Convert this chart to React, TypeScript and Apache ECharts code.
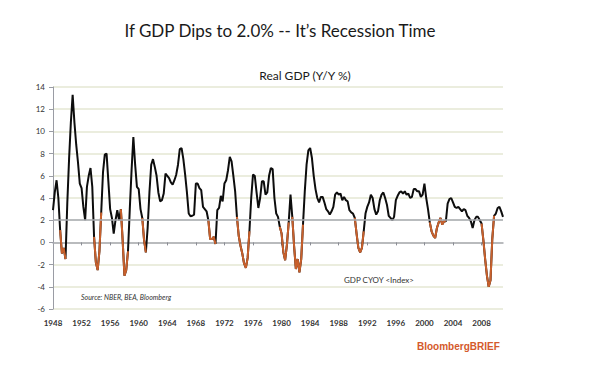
import React, { useEffect, useRef } from "react";
import * as echarts from "echarts";

const startYear = 1948;
const titleText = "If GDP Dips to 2.0% -- It\u2019s Recession Time";
const subtitleText = "Real GDP (Y/Y %)";
const sourceText = "Source: NBER, BEA, Bloomberg";
const seriesLabel = "GDP CYOY <Index>";
const brandText = "BloombergBRIEF";

// Quarterly real GDP, year-over-year %, 1948Q1 .. 2011Q1
const gdpYoY = [
  2.9, 4.5, 5.6, 4.0,
  1.1, -1.0, -0.5, -1.5,
  3.5, 7.5, 10.8, 13.3,
  10.8, 8.8, 7.2, 5.3,
  4.9, 3.2, 2.0, 5.0,
  6.0, 6.7, 5.0, 0.5,
  -1.8, -2.5, -0.8, 2.7,
  6.3, 7.9, 8.0, 5.5,
  3.0, 2.2, 0.8, 2.0,
  2.9, 2.0, 3.0, 0.2,
  -3.0, -2.5, -0.8, 3.0,
  6.5, 9.5, 7.0, 5.0,
  4.8, 3.0, 2.2, 0.2,
  -0.9, 1.3, 4.5, 7.0,
  7.5, 6.8, 6.0, 4.5,
  3.7, 3.8, 4.4, 6.2,
  6.0, 5.8, 5.4, 5.2,
  5.6, 6.1, 7.0, 8.4,
  8.5, 7.5, 6.1, 4.5,
  2.6, 2.35, 2.4, 2.5,
  5.3, 5.3, 4.9, 4.7,
  3.2, 3.0, 2.8, 2.0,
  0.3, 0.3, 0.5, -0.15,
  2.9, 3.1, 4.2, 3.7,
  5.3, 5.6, 6.5, 7.7,
  7.3, 6.0, 4.6, 2.3,
  0.6, -0.3, -1.0, -1.9,
  -2.3, -1.4, 1.0, 4.0,
  6.1, 6.0, 4.5, 3.1,
  4.0, 5.5, 5.5, 4.3,
  4.5, 6.0, 6.7, 6.6,
  4.0, 2.6, 2.3, 1.4,
  0.8, -0.9, -1.6, -0.2,
  1.8, 4.3, 2.3, -0.3,
  -2.4, -1.5, -2.7, -1.5,
  1.6, 4.6, 7.0, 8.3,
  8.5, 7.6, 6.0, 4.8,
  4.0, 3.6, 4.1, 4.1,
  3.6, 3.0, 2.8, 2.5,
  2.8, 3.2, 4.3, 4.5,
  4.3, 4.4, 3.8, 4.1,
  3.8, 3.7, 2.9, 2.7,
  2.6, 2.2, 0.8, -0.5,
  -0.9, -0.5, 1.0, 2.6,
  3.2, 3.6, 4.3, 4.0,
  3.0, 2.5, 2.8, 3.8,
  4.3, 4.5, 4.0, 3.4,
  2.4, 2.2, 2.0, 2.3,
  3.8, 4.2, 4.5, 4.6,
  4.4, 4.6, 4.3, 4.4,
  4.0, 4.1, 4.8, 4.8,
  4.6, 4.6, 4.1, 4.3,
  5.3, 4.0, 3.0, 1.8,
  1.0, 0.6, 0.4, 1.3,
  1.8, 2.2, 1.6, 1.9,
  1.9, 3.5, 3.9, 4.0,
  3.6, 3.2, 3.1, 3.2,
  3.0, 2.8, 3.0, 2.9,
  2.4, 2.2, 1.9, 1.3,
  2.0, 2.3, 2.3, 2.0,
  1.7, 0.2, -1.5, -3.0,
  -4.0, -3.4, 0.3, 2.4,
  2.6, 3.1, 3.2, 2.8,
  2.3,
];

// Index ranges (inclusive) of the quarters drawn in orange (GDP below ~2%, recessions)
const orangeRanges = [
  [4, 7], [23, 27], [38, 42], [50, 52], [87, 91], [103, 110],
  [127, 132], [134, 140], [169, 174], [211, 220], [240, 247],
];

const recessionLevel = 2;
const yMin = -6;
const yMax = 14;
const yInterval = 2;
const labelEveryQuarters = 16;

const quarters = gdpYoY.map(
  (_, i) => `${startYear + Math.floor(i / 4)}Q${(i % 4) + 1}`
);
const orangeData = gdpYoY.map((v, i) =>
  orangeRanges.some(([a, b]) => i >= a && i <= b) ? v : null
);

export default function App() {
  const ref = useRef<HTMLDivElement>(null);
  useEffect(() => {
    document.body.style.margin = "0";
    if (!ref.current) return;
    const chart = echarts.init(ref.current, null, { renderer: "svg" });
    const font = "Lato, 'Open Sans', sans-serif";
    chart.setOption({
      animation: false,
      backgroundColor: "#ffffff",
      textStyle: { fontFamily: font },
      grid: { left: 53, right: 107, top: 87, bottom: 72, containLabel: false },
      xAxis: [
        {
          type: "category",
          data: quarters,
          boundaryGap: false,
          axisLine: { show: false, onZero: false },
          axisTick: { show: false },
          splitLine: { show: false },
          axisLabel: {
            interval: (i: number) => i % labelEveryQuarters === 0,
            formatter: (v: string) => v.slice(0, 4),
            fontSize: 8,
            fontWeight: "bold",
            color: "#333",
            margin: 10,
            fontFamily: font,
          },
        },
        {
          type: "category",
          data: quarters,
          boundaryGap: false,
          position: "bottom",
          axisLine: { show: true, onZero: true, lineStyle: { color: "#a9abb3", width: 1.5 } },
          axisTick: {
            show: true,
            length: 3,
            interval: (i: number) => i % labelEveryQuarters === 0 && i > 0,
            lineStyle: { color: "#8a8c94", width: 1 },
          },
          axisLabel: { show: false },
          splitLine: { show: false },
        },
      ],
      yAxis: {
        type: "value",
        min: yMin,
        max: yMax,
        interval: yInterval,
        axisLine: { show: true, lineStyle: { color: "#9a9ca4", width: 1 } },
        axisTick: { show: true, length: 4, lineStyle: { color: "#9a9ca4" } },
        axisLabel: { fontSize: 8, color: "#333", margin: 8, fontFamily: font },
        splitLine: { show: true, lineStyle: { color: "#e5e7d3", width: 1.5 } },
      },
      series: [
        {
          type: "line",
          data: [],
          z: 1,
          silent: true,
          markLine: {
            silent: true,
            symbol: "none",
            label: { show: false },
            lineStyle: { color: "#a9abb3", width: 1.5, type: "solid" },
            data: [{ yAxis: recessionLevel }],
          },
        },
        {
          type: "line",
          data: gdpYoY,
          z: 3,
          showSymbol: false,
          symbol: "none",
          lineStyle: { color: "#0d0d0d", width: 2 },
        },
        {
          type: "line",
          data: orangeData,
          z: 4,
          showSymbol: false,
          symbol: "none",
          connectNulls: false,
          lineStyle: { color: "#c8602c", width: 2 },
        },
      ],
      graphic: [
        {
          type: "text",
          x: 280,
          y: 30,
          style: {
            text: titleText,
            fontSize: 17,
            fontFamily: font,
            fill: "#1a1a1a",
            textAlign: "center",
            textVerticalAlign: "middle",
          },
        },
        {
          type: "text",
          x: 305,
          y: 75,
          style: {
            text: subtitleText,
            fontSize: 12,
            fontFamily: font,
            fill: "#1a1a1a",
            textAlign: "center",
            textVerticalAlign: "middle",
          },
        },
        {
          type: "text",
          x: 81,
          y: 297,
          style: {
            text: sourceText,
            fontSize: 7,
            fontStyle: "italic",
            fontFamily: font,
            fill: "#333",
            textAlign: "left",
            textVerticalAlign: "middle",
          },
        },
        {
          type: "text",
          x: 344,
          y: 280,
          style: {
            text: seriesLabel,
            fontSize: 8,
            fontFamily: font,
            fill: "#333",
            textAlign: "left",
            textVerticalAlign: "middle",
          },
        },
        {
          type: "text",
          x: 417,
          y: 346,
          style: {
            text: brandText,
            fontSize: 10,
            fontWeight: "bold",
            fontFamily: "'Liberation Sans', Arial, sans-serif",
            fill: "#d4592b",
            textAlign: "left",
            textVerticalAlign: "middle",
          },
        },
      ],
    });
    return () => chart.dispose();
  }, []);
  return <div ref={ref} style={{ width: 610, height: 381 }} />;
}
